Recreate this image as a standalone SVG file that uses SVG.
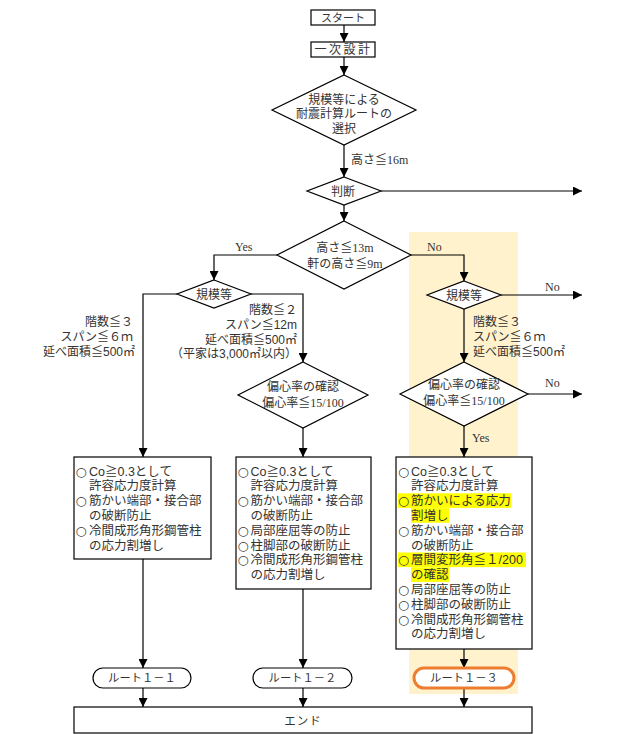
<svg xmlns="http://www.w3.org/2000/svg" width="637" height="734" viewBox="0 0 637 734">
<style>
.box{fill:#fff;stroke:#000;stroke-width:1.2}
.dia{fill:#fff;stroke:#000;stroke-width:1.2}
.conn path{fill:none;stroke:#000;stroke-width:1.2;marker-end:url(#arr)}
.t{font-family:"Liberation Sans","Noto Sans CJK JP",sans-serif;font-size:12px;fill:#333}
.b{font-family:"Liberation Sans","Noto Sans CJK JP",sans-serif;font-size:12.5px;fill:#333}
.c{font-family:"DejaVu Sans",sans-serif}
.s{font-family:"Liberation Serif","Noto Sans CJK JP",serif;font-size:12px;fill:#333}
.m{text-anchor:middle}
.e{text-anchor:end}
.hl{fill:#FFFF00}
</style>
<defs>
<marker id="arr" markerUnits="userSpaceOnUse" markerWidth="9" markerHeight="9" refX="9" refY="4.5" orient="auto">
<path d="M0,0 L9,4.5 L0,9 z" fill="#000"/>
</marker>
</defs>
<rect id="route13-band" x="409" y="232" width="109" height="462" fill="#FFF2CC"/>
<g class="conn" id="connectors">
<path d="M344,25 V42"/>
<path d="M344,57 V75"/>
<path d="M344,145 V177"/>
<path d="M381,191 H582"/>
<path d="M344,205 V221"/>
<path d="M277,255 H214 V280"/>
<path d="M411,255 H464 V281"/>
<path d="M177,294 H143 V457"/>
<path d="M251,294 H303 V362"/>
<path d="M303,428 V457"/>
<path d="M501,295 H582"/>
<path d="M464,309 V362"/>
<path d="M528,394 H582"/>
<path d="M464,426 V457"/>
<path d="M143,559 V668"/>
<path d="M303,589 V668"/>
<path d="M464,649 V668"/>
<path d="M143,688 V707"/>
<path d="M303,688 V707"/>
<path d="M464,688 V707"/>
</g>
<g id="labels">
<text class="s" x="351" y="164">高さ≦16m</text>
<text class="s" x="235" y="251">Yes</text>
<text class="s" x="427" y="251">No</text>
<text class="s" x="545" y="291">No</text>
<text class="s" x="545" y="387">No</text>
<text class="s" x="472" y="442">Yes</text>
<text class="t e" x="133" y="326">階数≦３</text>
<text class="t e" x="133" y="341">スパン≦６ｍ</text>
<text class="t e" x="135" y="356">延べ面積≦500㎡</text>
<text class="t e" x="297" y="314">階数≦２</text>
<text class="t e" x="297" y="329">スパン≦12m</text>
<text class="t e" x="297" y="344">延べ面積≦500㎡</text>
<text class="t e" x="297" y="358">（平家は3,000㎡以内）</text>
<text class="t" x="473" y="326">階数≦３</text>
<text class="t" x="473" y="341">スパン≦６ｍ</text>
<text class="t" x="473" y="356">延べ面積≦500㎡</text>
</g>
<g id="start">
<rect class="box" x="311" y="10" width="64" height="15"/>
<text class="t m" x="343" y="21.5" style="font-size:11px">スタート</text>
</g>
<g id="primary-design">
<rect class="box" x="311" y="42" width="64" height="15"/>
<text class="t m" x="343.5" y="54" style="letter-spacing:2.5px">一次設計</text>
</g>
<g id="route-select">
<polygon class="dia" points="344,75 416,110 344,145 272,110"/>
<text class="t m" x="344" y="103.5">規模等による</text>
<text class="t m" x="344" y="118">耐震計算ルートの</text>
<text class="t m" x="344" y="132.5">選択</text>
</g>
<g id="judge">
<polygon class="dia" points="344,177 381,191 344,205 307,191"/>
<text class="t m" x="343" y="195.5">判断</text>
</g>
<g id="height-check">
<polygon class="dia" points="344,221 411,255 344,289 277,255"/>
<text class="s m" x="345" y="251.5">高さ≦13m</text>
<text class="s m" x="345" y="267.5">軒の高さ≦9m</text>
</g>
<g id="scale-left">
<polygon class="dia" points="214,280 251,294 214,308 177,294"/>
<text class="t m" x="214" y="298.5">規模等</text>
</g>
<g id="scale-right">
<polygon class="dia" points="464,281 501,295 464,309 427,295"/>
<text class="t m" x="464" y="299.5">規模等</text>
</g>
<g id="eccentric-mid">
<polygon class="dia" points="303,362 368,395 303,428 238,395"/>
<text class="s m" x="303" y="390.5">偏心率の確認</text>
<text class="s m" x="303" y="406.5">偏心率≦15/100</text>
</g>
<g id="eccentric-right">
<polygon class="dia" points="464,362 528,394 464,426 400,394"/>
<text class="s m" x="464" y="388.5">偏心率の確認</text>
<text class="s m" x="464" y="404.5">偏心率≦15/100</text>
</g>
<g id="box-route11">
<rect class="box" x="74" y="457" width="137" height="102"/>
<text class="b">
<tspan class="c" x="75.5" y="475.5">○</tspan><tspan x="89">Co≧0.3として</tspan>
<tspan x="89" y="490.3">許容応力度計算</tspan>
<tspan class="c" x="75.5" y="505.1">○</tspan><tspan x="89">筋かい端部・接合部</tspan>
<tspan x="89" y="519.9">の破断防止</tspan>
<tspan class="c" x="75.5" y="534.7">○</tspan><tspan x="89">冷間成形角形鋼管柱</tspan>
<tspan x="89" y="549.5">の応力割増し</tspan>
</text>
</g>
<g id="box-route12">
<rect class="box" x="236" y="457" width="135" height="132"/>
<text class="b">
<tspan class="c" x="237.5" y="475.5">○</tspan><tspan x="250.5">Co≧0.3として</tspan>
<tspan x="250.5" y="490.3">許容応力度計算</tspan>
<tspan class="c" x="237.5" y="505.1">○</tspan><tspan x="250.5">筋かい端部・接合部</tspan>
<tspan x="250.5" y="519.9">の破断防止</tspan>
<tspan class="c" x="237.5" y="534.7">○</tspan><tspan x="250.5">局部座屈等の防止</tspan>
<tspan class="c" x="237.5" y="549.5">○</tspan><tspan x="250.5">柱脚部の破断防止</tspan>
<tspan class="c" x="237.5" y="564.3">○</tspan><tspan x="250.5">冷間成形角形鋼管柱</tspan>
<tspan x="250.5" y="579.1">の応力割増し</tspan>
</text>
</g>
<g id="box-route13">
<rect class="box" x="396" y="457" width="136" height="192"/>
<rect class="hl" x="398" y="493.3" width="113" height="14.6"/>
<rect class="hl" x="411" y="508.1" width="38" height="14.6"/>
<rect class="hl" x="398" y="552.5" width="128" height="14.6"/>
<rect class="hl" x="411" y="567.3" width="38" height="14.6"/>
<text class="b">
<tspan class="c" x="398" y="475.5">○</tspan><tspan x="411">Co≧0.3として</tspan>
<tspan x="411" y="490.3">許容応力度計算</tspan>
<tspan class="c" x="398" y="505.1">○</tspan><tspan x="411">筋かいによる応力</tspan>
<tspan x="411" y="519.9">割増し</tspan>
<tspan class="c" x="398" y="534.7">○</tspan><tspan x="411">筋かい端部・接合部</tspan>
<tspan x="411" y="549.5">の破断防止</tspan>
<tspan class="c" x="398" y="564.3">○</tspan><tspan x="411">層間変形角≦１/200</tspan>
<tspan x="411" y="579.1">の確認</tspan>
<tspan class="c" x="398" y="593.9">○</tspan><tspan x="411">局部座屈等の防止</tspan>
<tspan class="c" x="398" y="608.7">○</tspan><tspan x="411">柱脚部の破断防止</tspan>
<tspan class="c" x="398" y="623.5">○</tspan><tspan x="411">冷間成形角形鋼管柱</tspan>
<tspan x="411" y="638.3">の応力割増し</tspan>
</text>
</g>
<g id="route11">
<rect class="box" x="93" y="668" width="98" height="20" rx="10"/>
<text class="t m" x="142" y="682.3" style="font-size:11.3px">ルート１－１</text>
</g>
<g id="route12">
<rect class="box" x="253" y="668" width="99" height="20" rx="10"/>
<text class="t m" x="302.5" y="682.3" style="font-size:11.3px">ルート１－２</text>
</g>
<g id="route13">
<rect x="414" y="668" width="100" height="20" rx="10" fill="#fff" stroke="#ED7D31" stroke-width="3"/>
<text class="t m" x="464" y="682.3" style="font-size:11.3px">ルート１－３</text>
</g>
<g id="end">
<rect class="box" x="74" y="707" width="458" height="26"/>
<text class="t m" x="303" y="724.5" style="font-size:11.5px;letter-spacing:1px">エンド</text>
</g>
</svg>
